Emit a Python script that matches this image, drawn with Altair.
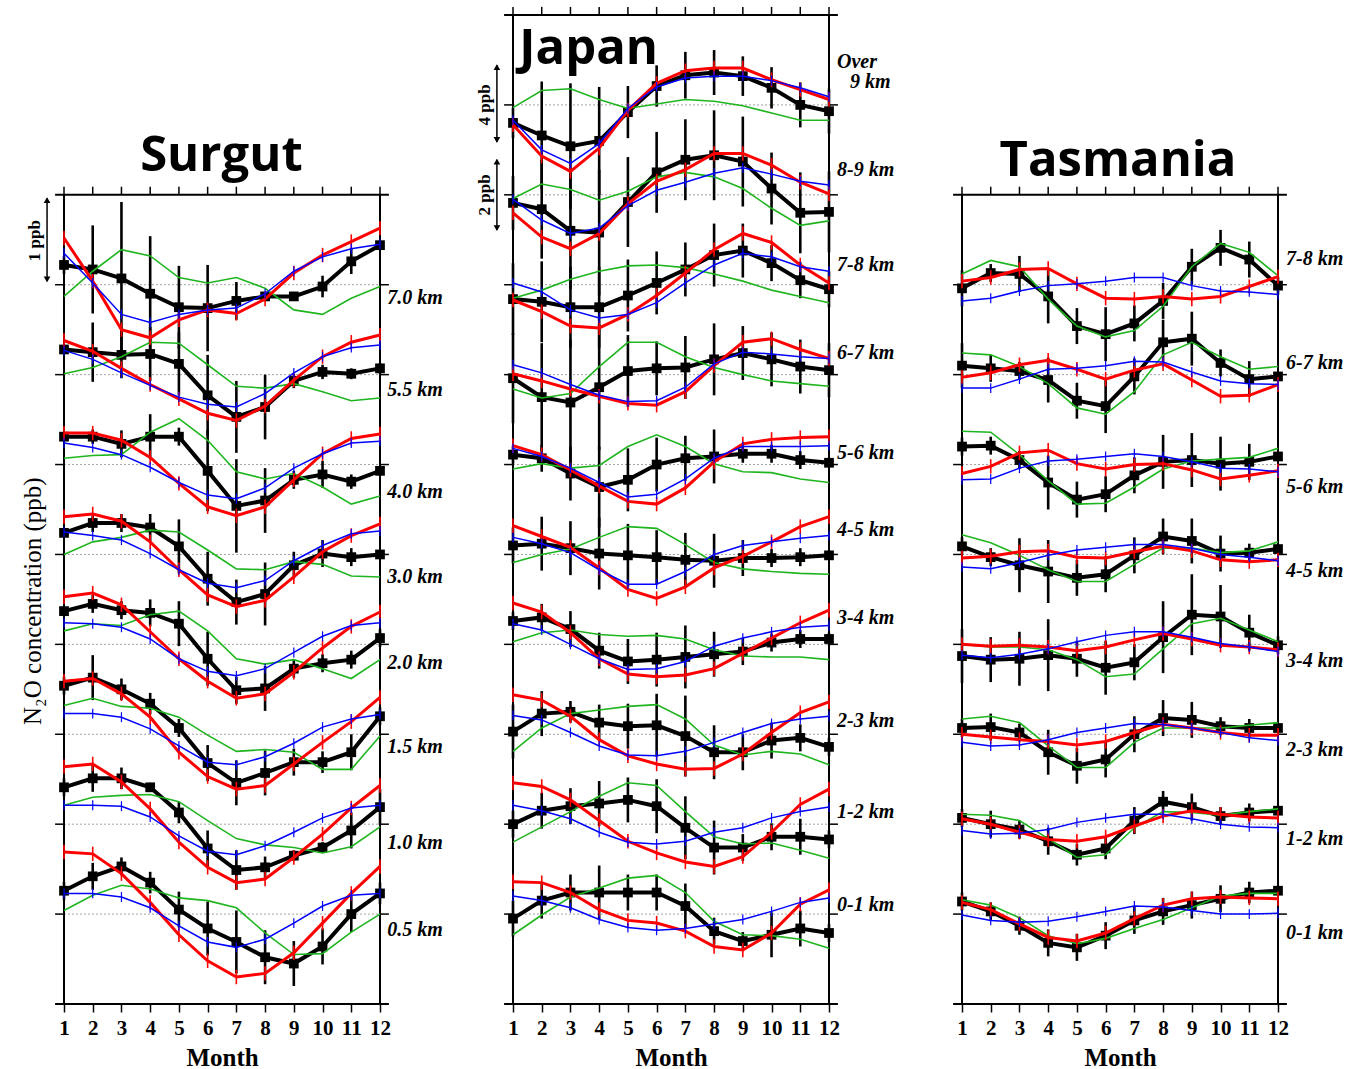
import altair as alt
import pandas as pd

MONTHS = list(range(1, 13))

# ---------------- Surgut (levels bottom -> top), anomalies in level-spacing units ----------------
SURGUT_LEVELS = ["0.5 km", "1.0 km", "1.5 km", "2.0 km", "3.0 km", "4.0 km", "5.5 km", "7.0 km"]
SURGUT_OBS = [
    [0.26, 0.42, 0.53, 0.35, 0.05, -0.16, -0.31, -0.48, -0.55, -0.36, 0.00, 0.23],
    [0.41, 0.51, 0.51, 0.41, 0.13, -0.27, -0.51, -0.48, -0.35, -0.26, -0.07, 0.19],
    [0.54, 0.63, 0.50, 0.34, 0.07, -0.32, -0.54, -0.43, -0.31, -0.31, -0.20, 0.20],
    [0.37, 0.45, 0.38, 0.35, 0.23, -0.16, -0.51, -0.49, -0.27, -0.21, -0.17, 0.07],
    [0.24, 0.35, 0.35, 0.30, 0.09, -0.27, -0.53, -0.44, -0.12, 0.01, -0.03, 0.00],
    [0.31, 0.31, 0.23, 0.31, 0.31, -0.07, -0.46, -0.40, -0.17, -0.11, -0.19, -0.07],
    [0.28, 0.25, 0.22, 0.23, 0.12, -0.23, -0.47, -0.36, -0.07, 0.03, 0.01, 0.07],
    [0.22, 0.17, 0.07, -0.10, -0.25, -0.26, -0.18, -0.13, -0.13, -0.02, 0.26, 0.44],
]
SURGUT_ERR = [
    [0.10, 0.15, 0.10, 0.12, 0.20, 0.30, 0.35, 0.30, 0.25, 0.20, 0.20, 0.12],
    [0.10, 0.15, 0.12, 0.05, 0.12, 0.20, 0.22, 0.12, 0.06, 0.06, 0.20, 0.20],
    [0.10, 0.25, 0.12, 0.12, 0.10, 0.20, 0.25, 0.25, 0.15, 0.12, 0.20, 0.10],
    [0.05, 0.10, 0.10, 0.15, 0.25, 0.30, 0.15, 0.25, 0.10, 0.10, 0.10, 0.10],
    [0.05, 0.10, 0.10, 0.15, 0.30, 0.30, 0.25, 0.35, 0.15, 0.15, 0.10, 0.05],
    [0.05, 0.08, 0.15, 0.25, 0.10, 0.45, 0.52, 0.36, 0.10, 0.15, 0.08, 0.05],
    [0.05, 0.33, 0.26, 0.30, 0.35, 0.45, 0.40, 0.36, 0.08, 0.08, 0.06, 0.06],
    [0.10, 0.49, 0.85, 0.64, 0.46, 0.48, 0.21, 0.05, 0.05, 0.12, 0.14, 0.05],
]
SURGUT_RED = [
    [0.69, 0.67, 0.45, 0.13, -0.23, -0.52, -0.70, -0.66, -0.43, -0.10, 0.23, 0.53],
    [0.64, 0.67, 0.47, 0.17, -0.20, -0.48, -0.65, -0.61, -0.37, -0.11, 0.18, 0.43],
    [0.59, 0.62, 0.45, 0.19, -0.20, -0.47, -0.61, -0.57, -0.33, -0.09, 0.14, 0.41],
    [0.53, 0.57, 0.44, 0.14, -0.16, -0.41, -0.60, -0.55, -0.31, -0.04, 0.20, 0.36],
    [0.42, 0.45, 0.37, 0.14, -0.17, -0.45, -0.58, -0.51, -0.25, 0.03, 0.21, 0.34],
    [0.35, 0.35, 0.27, 0.08, -0.21, -0.47, -0.57, -0.47, -0.17, 0.12, 0.29, 0.34],
    [0.38, 0.26, 0.07, -0.11, -0.27, -0.43, -0.51, -0.35, -0.06, 0.20, 0.36, 0.44],
    [0.52, 0.04, -0.50, -0.59, -0.39, -0.28, -0.32, -0.16, 0.13, 0.33, 0.48, 0.63],
]
SURGUT_BLUE = [
    [0.23, 0.23, 0.19, 0.07, -0.13, -0.31, -0.37, -0.28, -0.10, 0.09, 0.21, 0.23],
    [0.21, 0.21, 0.20, 0.08, -0.13, -0.30, -0.34, -0.24, -0.09, 0.07, 0.18, 0.21],
    [0.23, 0.23, 0.19, 0.06, -0.13, -0.31, -0.34, -0.25, -0.10, 0.08, 0.17, 0.22],
    [0.24, 0.23, 0.19, 0.06, -0.16, -0.30, -0.35, -0.27, -0.09, 0.09, 0.21, 0.24],
    [0.25, 0.21, 0.16, 0.01, -0.17, -0.32, -0.37, -0.29, -0.07, 0.10, 0.23, 0.26],
    [0.24, 0.19, 0.11, -0.03, -0.20, -0.34, -0.38, -0.26, -0.04, 0.12, 0.24, 0.26],
    [0.27, 0.17, 0.02, -0.12, -0.25, -0.33, -0.36, -0.21, 0.02, 0.20, 0.30, 0.33],
    [0.35, 0.02, -0.33, -0.42, -0.33, -0.28, -0.26, -0.10, 0.15, 0.31, 0.40, 0.45],
]
SURGUT_GREEN = [
    [0.04, 0.21, 0.32, 0.28, 0.18, 0.15, 0.07, -0.21, -0.45, -0.44, -0.20, 0.00],
    [0.21, 0.30, 0.32, 0.33, 0.25, 0.04, -0.16, -0.23, -0.26, -0.32, -0.25, -0.03],
    [0.32, 0.40, 0.31, 0.29, 0.19, -0.01, -0.19, -0.17, -0.20, -0.39, -0.39, -0.02],
    [0.15, 0.23, 0.21, 0.33, 0.37, 0.15, -0.16, -0.22, -0.17, -0.27, -0.38, -0.17],
    [0.00, 0.14, 0.19, 0.27, 0.25, 0.05, -0.16, -0.17, -0.08, -0.11, -0.24, -0.25],
    [0.07, 0.10, 0.11, 0.36, 0.51, 0.27, -0.08, -0.16, -0.10, -0.25, -0.44, -0.35],
    [0.01, 0.08, 0.20, 0.36, 0.35, 0.11, -0.13, -0.15, -0.10, -0.19, -0.29, -0.26],
    [-0.13, 0.15, 0.39, 0.32, 0.08, 0.02, 0.08, -0.04, -0.28, -0.33, -0.15, -0.02],
]

# ---------------- Japan ----------------
JAPAN_LEVELS = ["0-1 km", "1-2 km", "2-3 km", "3-4 km", "4-5 km", "5-6 km", "6-7 km",
                "7-8 km", "8-9 km", "Over 9 km"]
JAPAN_OBS = [
    [-0.05, 0.15, 0.24, 0.24, 0.24, 0.24, 0.09, -0.19, -0.30, -0.23, -0.16, -0.21],
    [0.00, 0.15, 0.20, 0.23, 0.27, 0.20, -0.04, -0.26, -0.26, -0.14, -0.14, -0.17],
    [0.03, 0.23, 0.25, 0.13, 0.09, 0.10, -0.02, -0.20, -0.20, -0.07, -0.04, -0.14],
    [0.26, 0.30, 0.17, -0.07, -0.19, -0.17, -0.14, -0.11, -0.08, 0.02, 0.06, 0.06],
    [0.10, 0.12, 0.07, 0.01, -0.01, -0.03, -0.06, -0.07, -0.04, -0.04, -0.03, -0.01],
    [0.11, 0.07, -0.10, -0.25, -0.17, 0.00, 0.07, 0.09, 0.12, 0.12, 0.05, 0.02],
    [-0.04, -0.25, -0.31, -0.14, 0.04, 0.07, 0.08, 0.17, 0.24, 0.17, 0.09, 0.05],
    [-0.16, -0.19, -0.25, -0.25, -0.12, 0.02, 0.17, 0.33, 0.38, 0.24, 0.05, -0.05],
    [-0.09, -0.16, -0.40, -0.42, -0.08, 0.25, 0.39, 0.44, 0.37, 0.07, -0.20, -0.19],
    [-0.20, -0.34, -0.46, -0.40, -0.08, 0.21, 0.33, 0.36, 0.32, 0.19, 0.00, -0.07],
]
JAPAN_ERR = [
    [0.20, 0.20, 0.20, 0.30, 0.20, 0.20, 0.25, 0.15, 0.10, 0.25, 0.20, 0.10],
    [0.15, 0.20, 0.20, 0.25, 0.25, 0.30, 0.35, 0.30, 0.15, 0.15, 0.20, 0.10],
    [0.30, 0.25, 0.12, 0.20, 0.25, 0.35, 0.45, 0.30, 0.20, 0.20, 0.15, 0.10],
    [0.10, 0.15, 0.20, 0.20, 0.25, 0.30, 0.35, 0.25, 0.15, 0.10, 0.10, 0.07],
    [0.20, 0.30, 0.30, 0.40, 0.35, 0.30, 0.30, 0.30, 0.20, 0.10, 0.10, 0.05],
    [0.10, 0.15, 0.30, 0.45, 0.35, 0.30, 0.25, 0.30, 0.10, 0.10, 0.10, 0.05],
    [0.50, 0.60, 0.70, 0.70, 0.40, 0.30, 0.35, 0.40, 0.30, 0.30, 0.30, 0.30],
    [0.40, 0.45, 0.45, 0.45, 0.40, 0.35, 0.30, 0.35, 0.30, 0.20, 0.20, 0.20],
    [0.30, 0.55, 0.65, 0.70, 0.50, 0.45, 0.45, 0.50, 0.50, 0.40, 0.45, 0.45],
    [0.17, 0.60, 0.70, 0.60, 0.29, 0.23, 0.26, 0.25, 0.22, 0.23, 0.25, 0.25],
]
JAPAN_RED = [
    [0.36, 0.35, 0.24, 0.05, -0.07, -0.10, -0.19, -0.36, -0.40, -0.21, 0.11, 0.27],
    [0.46, 0.42, 0.27, 0.04, -0.19, -0.32, -0.42, -0.47, -0.36, -0.09, 0.22, 0.39],
    [0.44, 0.38, 0.20, -0.06, -0.24, -0.33, -0.39, -0.38, -0.22, 0.02, 0.24, 0.36],
    [0.46, 0.36, 0.13, -0.16, -0.33, -0.36, -0.34, -0.27, -0.10, 0.07, 0.24, 0.38],
    [0.32, 0.20, 0.08, -0.15, -0.39, -0.49, -0.36, -0.15, -0.02, 0.14, 0.31, 0.42],
    [0.21, 0.11, -0.06, -0.24, -0.41, -0.44, -0.26, 0.03, 0.23, 0.28, 0.30, 0.31],
    [0.01, -0.07, -0.16, -0.24, -0.32, -0.34, -0.19, 0.10, 0.36, 0.40, 0.28, 0.18],
    [-0.17, -0.30, -0.46, -0.48, -0.33, -0.12, 0.13, 0.39, 0.57, 0.47, 0.22, 0.02],
    [-0.20, -0.47, -0.60, -0.43, -0.10, 0.15, 0.28, 0.46, 0.46, 0.33, 0.14, 0.01],
    [-0.22, -0.57, -0.74, -0.48, -0.06, 0.24, 0.38, 0.41, 0.41, 0.28, 0.17, 0.06],
]
JAPAN_BLUE = [
    [0.20, 0.15, 0.07, -0.06, -0.15, -0.18, -0.16, -0.11, -0.06, 0.03, 0.13, 0.18],
    [0.21, 0.15, 0.06, -0.09, -0.20, -0.22, -0.19, -0.09, -0.04, 0.07, 0.14, 0.19],
    [0.21, 0.16, 0.02, -0.13, -0.23, -0.24, -0.19, -0.09, 0.02, 0.12, 0.17, 0.20],
    [0.23, 0.16, 0.00, -0.16, -0.28, -0.27, -0.19, -0.02, 0.07, 0.14, 0.19, 0.21],
    [0.19, 0.12, 0.02, -0.17, -0.33, -0.33, -0.19, 0.00, 0.10, 0.14, 0.18, 0.21],
    [0.18, 0.09, -0.04, -0.20, -0.36, -0.33, -0.16, 0.07, 0.20, 0.20, 0.20, 0.21],
    [0.11, 0.02, -0.11, -0.23, -0.30, -0.29, -0.14, 0.12, 0.25, 0.23, 0.20, 0.18],
    [0.02, -0.08, -0.28, -0.37, -0.33, -0.20, 0.02, 0.22, 0.35, 0.31, 0.20, 0.15],
    [-0.05, -0.28, -0.43, -0.37, -0.12, 0.05, 0.14, 0.24, 0.30, 0.23, 0.15, 0.11],
    [-0.17, -0.50, -0.65, -0.43, -0.04, 0.20, 0.30, 0.32, 0.32, 0.27, 0.19, 0.09],
]
JAPAN_GREEN = [
    [-0.23, -0.01, 0.19, 0.29, 0.40, 0.43, 0.24, -0.08, -0.23, -0.24, -0.28, -0.38],
    [-0.20, -0.03, 0.14, 0.31, 0.46, 0.43, 0.14, -0.14, -0.22, -0.21, -0.29, -0.38],
    [-0.19, 0.07, 0.23, 0.27, 0.31, 0.33, 0.17, -0.12, -0.23, -0.19, -0.22, -0.34],
    [0.03, 0.13, 0.16, 0.11, 0.09, 0.10, 0.06, -0.06, -0.13, -0.14, -0.14, -0.17],
    [-0.09, 0.00, 0.06, 0.19, 0.31, 0.29, 0.11, -0.09, -0.16, -0.19, -0.21, -0.22],
    [-0.05, 0.01, -0.04, -0.01, 0.20, 0.33, 0.20, 0.01, -0.08, -0.09, -0.16, -0.20],
    [-0.16, -0.26, -0.21, 0.09, 0.36, 0.36, 0.20, 0.08, 0.00, -0.07, -0.10, -0.13],
    [-0.15, -0.06, 0.06, 0.15, 0.21, 0.22, 0.19, 0.12, 0.04, -0.06, -0.13, -0.20],
    [-0.04, 0.12, 0.06, -0.06, 0.04, 0.20, 0.25, 0.20, 0.07, -0.15, -0.34, -0.29],
    [-0.03, 0.16, 0.18, 0.06, -0.04, 0.01, 0.06, 0.04, -0.01, -0.09, -0.17, -0.17],
]

# ---------------- Tasmania ----------------
TASMANIA_LEVELS = ["0-1 km", "1-2 km", "2-3 km", "3-4 km", "4-5 km", "5-6 km", "6-7 km", "7-8 km"]
TASMANIA_OBS = [
    [0.14, 0.03, -0.13, -0.32, -0.37, -0.24, -0.07, 0.03, 0.10, 0.17, 0.24, 0.26],
    [0.07, 0.00, -0.06, -0.19, -0.34, -0.27, 0.04, 0.25, 0.19, 0.09, 0.13, 0.15],
    [0.07, 0.08, 0.02, -0.20, -0.35, -0.28, 0.00, 0.18, 0.16, 0.09, 0.07, 0.07],
    [-0.13, -0.17, -0.16, -0.12, -0.16, -0.26, -0.20, 0.08, 0.33, 0.31, 0.13, -0.01],
    [0.09, -0.03, -0.12, -0.19, -0.26, -0.22, -0.01, 0.20, 0.15, 0.01, 0.02, 0.06],
    [0.20, 0.21, 0.05, -0.20, -0.39, -0.33, -0.12, 0.03, 0.05, 0.01, 0.03, 0.09],
    [0.10, 0.07, 0.04, -0.06, -0.29, -0.35, -0.02, 0.36, 0.40, 0.13, -0.05, -0.02],
    [-0.04, 0.13, 0.12, -0.13, -0.46, -0.55, -0.43, -0.18, 0.20, 0.41, 0.28, -0.01],
]
TASMANIA_ERR = [
    [0.10, 0.10, 0.10, 0.15, 0.15, 0.15, 0.15, 0.15, 0.15, 0.15, 0.12, 0.05],
    [0.10, 0.15, 0.10, 0.15, 0.12, 0.12, 0.15, 0.12, 0.15, 0.10, 0.10, 0.05],
    [0.10, 0.15, 0.10, 0.25, 0.20, 0.20, 0.20, 0.20, 0.20, 0.10, 0.10, 0.05],
    [0.30, 0.25, 0.30, 0.40, 0.20, 0.30, 0.20, 0.40, 0.45, 0.35, 0.20, 0.10],
    [0.10, 0.10, 0.30, 0.35, 0.20, 0.20, 0.20, 0.20, 0.25, 0.20, 0.10, 0.05],
    [0.10, 0.10, 0.10, 0.30, 0.20, 0.20, 0.20, 0.30, 0.30, 0.30, 0.20, 0.05],
    [0.25, 0.15, 0.10, 0.25, 0.20, 0.30, 0.20, 0.25, 0.30, 0.15, 0.20, 0.05],
    [0.20, 0.10, 0.20, 0.30, 0.20, 0.30, 0.20, 0.20, 0.20, 0.20, 0.20, 0.10],
]
TASMANIA_RED = [
    [0.13, 0.05, -0.11, -0.26, -0.30, -0.21, -0.05, 0.10, 0.17, 0.19, 0.18, 0.17],
    [0.06, 0.00, -0.09, -0.17, -0.19, -0.14, -0.02, 0.09, 0.15, 0.11, 0.08, 0.07],
    [0.00, -0.03, -0.06, -0.08, -0.12, -0.08, 0.02, 0.11, 0.07, 0.02, -0.01, -0.01],
    [0.00, -0.02, -0.01, -0.03, -0.07, -0.03, 0.05, 0.12, 0.06, -0.01, -0.03, -0.06],
    [-0.04, -0.02, 0.03, 0.04, -0.03, -0.04, 0.03, 0.09, 0.04, -0.06, -0.08, -0.06],
    [-0.10, -0.02, 0.13, 0.16, 0.01, -0.05, 0.00, 0.01, -0.06, -0.16, -0.12, -0.07],
    [-0.03, 0.02, 0.11, 0.16, 0.06, -0.05, 0.05, 0.12, -0.06, -0.24, -0.23, -0.11],
    [0.04, 0.08, 0.17, 0.18, 0.01, -0.15, -0.16, -0.13, -0.16, -0.13, -0.02, 0.09],
]
TASMANIA_BLUE = [
    [-0.01, -0.07, -0.09, -0.08, -0.03, 0.03, 0.09, 0.08, 0.04, 0.00, 0.00, 0.01],
    [-0.07, -0.11, -0.10, -0.06, 0.02, 0.07, 0.11, 0.11, 0.06, 0.00, -0.03, -0.04],
    [-0.09, -0.13, -0.12, -0.06, 0.02, 0.07, 0.12, 0.11, 0.07, 0.02, -0.04, -0.07],
    [-0.12, -0.15, -0.11, -0.05, 0.03, 0.10, 0.14, 0.14, 0.08, 0.01, -0.03, -0.08],
    [-0.14, -0.16, -0.09, -0.01, 0.05, 0.08, 0.11, 0.11, 0.07, 0.00, -0.03, -0.07],
    [-0.17, -0.16, -0.04, 0.04, 0.06, 0.09, 0.12, 0.09, 0.03, -0.04, -0.05, -0.08],
    [-0.15, -0.15, -0.05, 0.06, 0.07, 0.10, 0.15, 0.14, 0.03, -0.07, -0.10, -0.11],
    [-0.18, -0.15, -0.07, -0.01, 0.01, 0.04, 0.08, 0.08, -0.01, -0.07, -0.08, -0.11],
]
TASMANIA_GREEN = [
    [0.16, 0.10, -0.04, -0.24, -0.33, -0.27, -0.16, -0.06, 0.07, 0.20, 0.23, 0.23],
    [0.11, 0.10, 0.04, -0.16, -0.37, -0.34, -0.04, 0.14, 0.13, 0.10, 0.14, 0.17],
    [0.17, 0.20, 0.13, -0.13, -0.37, -0.37, -0.09, 0.07, 0.07, 0.07, 0.10, 0.13],
    [0.00, -0.03, -0.03, -0.06, -0.17, -0.36, -0.33, -0.05, 0.23, 0.29, 0.16, 0.03],
    [0.22, 0.13, -0.01, -0.17, -0.30, -0.30, -0.11, 0.07, 0.07, 0.02, 0.04, 0.14],
    [0.37, 0.36, 0.11, -0.18, -0.44, -0.43, -0.25, -0.05, 0.04, 0.06, 0.08, 0.18],
    [0.24, 0.22, 0.09, -0.10, -0.37, -0.44, -0.19, 0.22, 0.36, 0.20, 0.06, 0.09],
    [0.12, 0.27, 0.20, -0.16, -0.46, -0.58, -0.51, -0.24, 0.20, 0.46, 0.36, 0.10],
]

# ---------------- annotation layout (label text, x in month units, y relative to level) ----------------
SURGUT_LABELS = [(t, 12.25, dy) for t, dy in zip(
    SURGUT_LEVELS, [-0.18, -0.21, -0.14, -0.21, -0.25, -0.31, -0.17, -0.15])]
JAPAN_LABELS = [(t, 12.28, dy) for t, dy in zip(
    JAPAN_LEVELS[:9], [0.10, 0.14, 0.15, 0.29, 0.27, 0.13, 0.24, 0.22, 0.28])]
JAPAN_LABELS += [("Over", 12.28, 0.48), ("9 km", 12.73, 0.26)]
TASMANIA_LABELS = [(t, 12.28, dy) for t, dy in zip(
    TASMANIA_LEVELS, [-0.21, -0.17, -0.17, -0.18, -0.18, -0.25, 0.13, 0.29])]

SERIF = "Liberation Serif"
SANS = "Open Sans"
RED, BLUE, GREEN = "#ff0000", "#0000ff", "#1fb51f"

XS = alt.Scale(domain=[1, 12], nice=False, zero=False)
YS = alt.Scale(domain=[-1, 10], nice=False, zero=False)
XAXIS = alt.Axis(values=MONTHS, format="d", title="Month", domain=False, grid=False,
                 tickSize=8, tickWidth=1.5, tickColor="black",
                 labelFont=SERIF, labelFontSize=21, labelFontWeight="bold", labelColor="black",
                 labelPadding=5, labelFlush=False, labelOverlap=False,
                 titleFont=SERIF, titleFontSize=25, titleFontWeight="bold", titleColor="black",
                 titlePadding=7)


def X(f):
    return alt.X(f, type="quantitative", scale=XS, axis=XAXIS)


def Y(f):
    return alt.Y(f, type="quantitative", scale=YS, axis=None)


def panel(levels, obs, err, red, blue, green, labels, title, title_x, title_y, title_align, extras):
    top = len(levels)
    line_rows, err_rows, tick_rows, base_rows = [], [], [], []
    for i in range(len(levels)):
        base_rows.append(dict(x=1, x2=12, y=i))
        for name, arr in (("obs", obs), ("red", red), ("blue", blue), ("green", green)):
            for m, v in zip(MONTHS, arr[i]):
                line_rows.append(dict(series=name, level=i, month=m, y=i + v))
        for m, v, e in zip(MONTHS, obs[i], err[i]):
            err_rows.append(dict(month=m, lo=i + v - e, hi=i + v + e))
        for m, v in zip(MONTHS, red[i]):
            tick_rows.append(dict(series="red", month=m, lo=i + v - 0.08, hi=i + v + 0.08))
        for m, v in zip(MONTHS, blue[i]):
            tick_rows.append(dict(series="blue", month=m, lo=i + v - 0.055, hi=i + v + 0.055))
    lines = pd.DataFrame(line_rows)
    errs = pd.DataFrame(err_rows)
    ticks = pd.DataFrame(tick_rows)
    bases = pd.DataFrame(base_rows)

    frame_h = pd.DataFrame([dict(x=0.69, x2=12.31, y=-1), dict(x=0.69, x2=12.31, y=top)])
    frame_v = pd.DataFrame([dict(x=1, y=-1, y2=top), dict(x=12, y=-1, y2=top)])
    side_ticks = pd.DataFrame([dict(x=0.69, x2=1, y=i) for i in range(top)] +
                              [dict(x=12, x2=12.31, y=i) for i in range(top)])
    top_ticks = pd.DataFrame([dict(x=m, y=top, y2=top + 0.09) for m in MONTHS])
    lab = pd.DataFrame([dict(x=x, y=levels_i + dy, t=t) for levels_i, (t, x, dy) in
                        [(min(k, top - 1), l) for k, l in enumerate(labels)]])
    ttl = pd.DataFrame([dict(x=title_x, y=title_y, t=title)])

    layers = [
        alt.Chart(bases).mark_rule(color="#8c8c8c", strokeWidth=0.8, strokeDash=[2, 2]).encode(
            x=X("x"), x2="x2", y=Y("y")),
        alt.Chart(frame_h).mark_rule(color="black", strokeWidth=2).encode(x=X("x"), x2="x2", y=Y("y")),
        alt.Chart(frame_v).mark_rule(color="black", strokeWidth=2).encode(x=X("x"), y=Y("y"), y2="y2"),
        alt.Chart(side_ticks).mark_rule(color="black", strokeWidth=1.5).encode(x=X("x"), x2="x2", y=Y("y")),
        alt.Chart(top_ticks).mark_rule(color="black", strokeWidth=1.5).encode(x=X("x"), y=Y("y"), y2="y2"),
        alt.Chart(errs).mark_rule(color="black", strokeWidth=2.6).encode(x=X("month"), y=Y("lo"), y2="hi"),
        alt.Chart(lines).transform_filter("datum.series == 'obs'").mark_line(
            color="black", strokeWidth=4).encode(x=X("month"), y=Y("y"), detail="level:N", order="month:Q"),
        alt.Chart(lines).transform_filter("datum.series == 'obs'").mark_point(
            shape="square", filled=True, size=95, color="black", opacity=1).encode(x=X("month"), y=Y("y")),
        alt.Chart(lines).transform_filter("datum.series == 'green'").mark_line(
            color=GREEN, strokeWidth=1.6).encode(x=X("month"), y=Y("y"), detail="level:N", order="month:Q"),
        alt.Chart(lines).transform_filter("datum.series == 'red'").mark_line(
            color=RED, strokeWidth=3).encode(x=X("month"), y=Y("y"), detail="level:N", order="month:Q"),
        alt.Chart(ticks).transform_filter("datum.series == 'red'").mark_rule(
            color=RED, strokeWidth=1.6).encode(x=X("month"), y=Y("lo"), y2="hi"),
        alt.Chart(lines).transform_filter("datum.series == 'blue'").mark_line(
            color=BLUE, strokeWidth=1.5).encode(x=X("month"), y=Y("y"), detail="level:N", order="month:Q"),
        alt.Chart(ticks).transform_filter("datum.series == 'blue'").mark_rule(
            color=BLUE, strokeWidth=1.2).encode(x=X("month"), y=Y("lo"), y2="hi"),
        alt.Chart(lab).mark_text(font=SERIF, fontSize=20, fontWeight="bold", fontStyle="italic",
                                 align="left", baseline="middle", color="black").encode(
            x=X("x"), y=Y("y"), text="t:N"),
        alt.Chart(ttl).mark_text(font=SANS, fontSize=49, fontWeight="bold", align=title_align,
                                 baseline="alphabetic", color="black").encode(
            x=X("x"), y=Y("y"), text="t:N"),
    ]
    layers += extras
    return alt.layer(*layers).properties(width=316, height=989)


def arrow(x, y_lo, y_hi, text, text_x, text_y):
    shaft = pd.DataFrame([dict(x=x, y=y_lo + 0.04, y2=y_hi - 0.04)])
    heads = pd.DataFrame([dict(x=x, y=y_hi - 0.06, s="triangle-up"),
                          dict(x=x, y=y_lo + 0.06, s="triangle-down")])
    txt = pd.DataFrame([dict(x=text_x, y=text_y, t=text)])
    return [
        alt.Chart(shaft).mark_rule(color="black", strokeWidth=1.5).encode(x=X("x"), y=Y("y"), y2="y2"),
        alt.Chart(heads).mark_point(filled=True, size=45, color="black", opacity=1).encode(
            x=X("x"), y=Y("y"), shape=alt.Shape("s:N", scale=None, legend=None)),
        alt.Chart(txt).mark_text(font=SERIF, fontSize=17, fontWeight="bold", angle=270,
                                 align="center", baseline="middle", color="black").encode(
            x=X("x"), y=Y("y"), text="t:N"),
    ]


ytitle = pd.DataFrame([dict(x=-0.08, y=3.48, t="N\u2082O concentration (ppb)")])
surgut_extras = arrow(0.41, 7.0, 8.0, "1 ppb", 0.0, 7.49) + [
    alt.Chart(ytitle).mark_text(font=SERIF, fontSize=25, angle=270, align="center",
                                baseline="middle", color="black").encode(x=X("x"), y=Y("y"), text="t:N")
]
japan_extras = arrow(0.44, 8.55, 9.48, "4 ppb", 0.04, 9.0) + arrow(0.44, 7.57, 8.43, "2 ppb", 0.04, 8.0)

surgut = panel(SURGUT_LEVELS, SURGUT_OBS, SURGUT_ERR, SURGUT_RED, SURGUT_BLUE, SURGUT_GREEN,
               SURGUT_LABELS, "Surgut", 6.48, 8.27, "center", surgut_extras)
japan = panel(JAPAN_LEVELS, JAPAN_OBS, JAPAN_ERR, JAPAN_RED, JAPAN_BLUE, JAPAN_GREEN,
              JAPAN_LABELS, "Japan", 1.22, 9.45, "left", japan_extras)
tasmania = panel(TASMANIA_LEVELS, TASMANIA_OBS, TASMANIA_ERR, TASMANIA_RED, TASMANIA_BLUE,
                 TASMANIA_GREEN, TASMANIA_LABELS, "Tasmania", 6.43, 8.21, "center", [])

chart = alt.hconcat(surgut, japan, tasmania, spacing=133, bounds="flush").properties(
    padding={"left": 20, "top": 6, "right": 0, "bottom": 0},
    background="white",
).configure_view(stroke=None)

chart.save("out.html", embed_options={"renderer": "svg", "actions": False})
